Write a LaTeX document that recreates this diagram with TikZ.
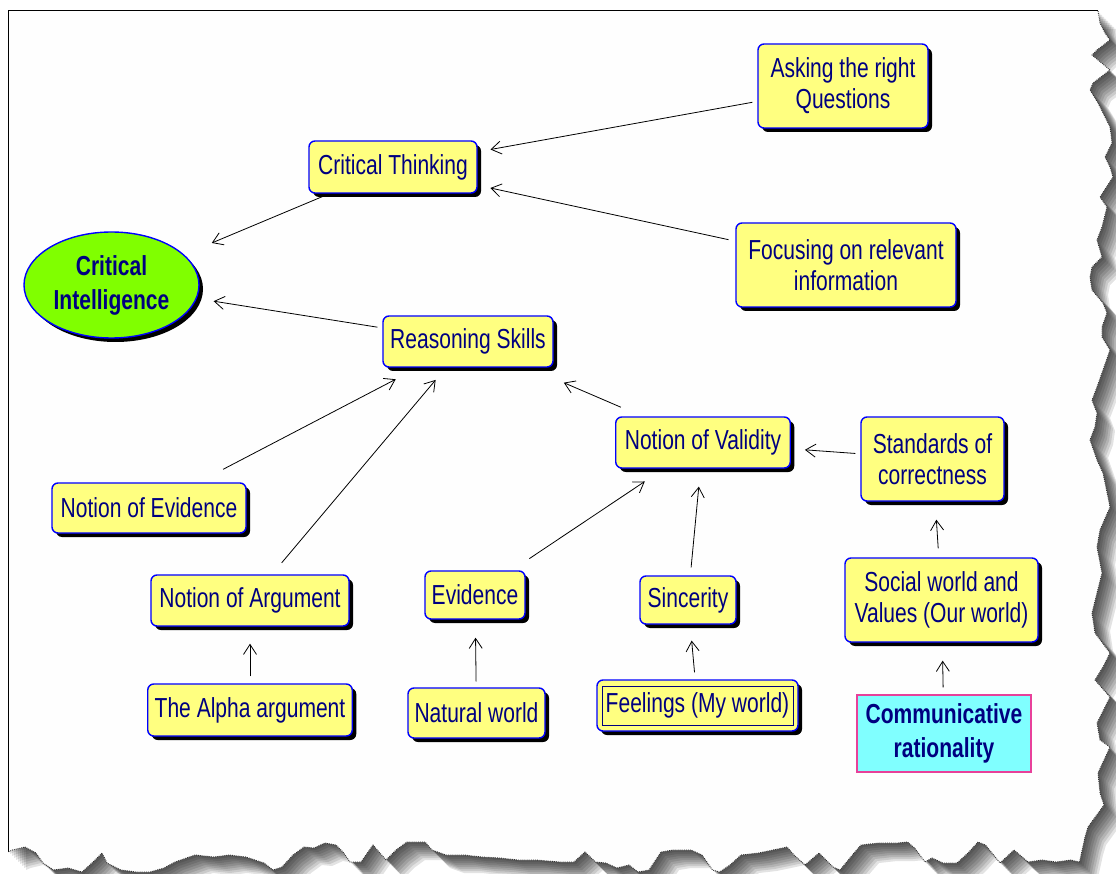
\documentclass[tikz,border=0pt]{standalone}
\usepackage{fontspec}
\newfontfamily\cmapfont{Liberation Sans}[FakeStretch=0.765]
\usetikzlibrary{shadows,arrows.meta,shapes.geometric,calc}
\definecolor{boxyellow}{HTML}{FFFF80}
\definecolor{boxblue}{HTML}{0000FF}
\definecolor{navytext}{HTML}{000080}
\definecolor{cigreen}{HTML}{80FF00}
\definecolor{crcyan}{HTML}{80FFFF}
\definecolor{crpink}{HTML}{E8409A}
\def\tornedge{-- (1100,23) -- (1105,33) -- (1110,40) -- (1097,50) -- (1092,55) -- (1110,70) -- (1093,83) -- (1090,90) -- (1098,103) -- (1110,127) -- (1112,143) -- (1105,157) -- (1110,167) -- (1113,177) -- (1100,197) -- (1107,207) -- (1102,227) -- (1097,240) -- (1102,257) -- (1092,267) -- (1090,277) -- (1092,290) -- (1103,303) -- (1107,313) -- (1102,327) -- (1102,337) -- (1110,350) -- (1097,387) -- (1092,400) -- (1097,413) -- (1095,427) -- (1090,440) -- (1097,460) -- (1103,473) -- (1110,507) -- (1100,530) -- (1097,547) -- (1102,573) -- (1092,613) -- (1095,633) -- (1110,653) -- (1103,667) -- (1095,680) -- (1110,697) -- (1097,723) -- (1100,740) -- (1110,747) -- (1098,773) -- (1100,793) -- (1104,805) -- (1088,827) -- (1085,837) -- (1079.5,862) -- (1070.6,860) -- (1056,862) -- (1042,860) -- (1028,862) -- (1014,850) -- (1000,863) -- (985.5,845) -- (978,842) -- (968,853) -- (957,863) -- (943,863) -- (932,858) -- (925,862) -- (914.6,848) -- (907.5,842) -- (897,843) -- (879,843) -- (861,845) -- (854,853) -- (840,870) -- (833,867) -- (819,853) -- (805,865) -- (794,855) -- (787,847) -- (773,850) -- (758.6,853) -- (741,855) -- (730,865) -- (719.6,872) -- (712.5,870) -- (702,855) -- (691,850) -- (673,850) -- (661,852) -- (649,870) -- (638,872) -- (629,865) -- (617,868) -- (606,863) -- (595.5,862) -- (585,852) -- (574,862) -- (560,862) -- (536,860) -- (518,860) -- (500,858) -- (482,857) -- (464,855) -- (446,855) -- (432,850) -- (425,842) -- (407,842) -- (396,850) -- (386,860) -- (373,845) -- (361,862) -- (350,862) -- (343,852) -- (336,845) -- (325,843) -- (314,848) -- (304,847) -- (293,855) -- (282,867) -- (273,870) -- (264,863) -- (246,857) -- (229,855) -- (214,857) -- (195,855) -- (175,862) -- (164,868) -- (150,872) -- (136,872) -- (121,870) -- (107,863) -- (102,853) -- (93,862) -- (82,872) -- (68,868) -- (53.6,870) -- (43,863) -- (36,853) -- (25,847) -- (12.5,850) -- (8,852)}
\begin{document}
\begin{tikzpicture}[x=1pt,y=-1pt,
  boxsz/.style 2 args={minimum width=#1pt, minimum height=#2pt},
  basefont/.style={font=\cmapfont\fontsize{27.5}{31}\selectfont},
  cbox/.style={rectangle, rounded corners=6pt, draw=boxblue, line width=1.4pt,
    fill=boxyellow, text=navytext, basefont, align=center, inner sep=0pt,
    drop shadow={shadow xshift=4pt, shadow yshift=-4pt, fill=black, opacity=1}},
  cell/.style={ellipse, draw=boxblue, line width=1.4pt, fill=cigreen, text=navytext,
    font=\cmapfont\bfseries\fontsize{27.5}{34}\selectfont, align=center, inner sep=0pt,
    drop shadow={shadow xshift=4pt, shadow yshift=-4pt, fill=black, opacity=1}},
  crbox/.style={rectangle, draw=crpink, line width=1.4pt, fill=crcyan, text=navytext,
    font=\cmapfont\bfseries\fontsize{27.5}{34}\selectfont, align=center, inner sep=0pt},
  conn/.style={draw=black, line width=0.8pt, -{Straight Barb[length=10pt,width=13pt,line width=0.8pt]}}
]
\useasboundingbox (0,0) rectangle (1116,874);
\fill[white] (0,0) rectangle (1116,874);
% torn paper shadow
\foreach \k in {2,4,6,8,10,12,14,16,18}{
  \fill[black, opacity=0.11, xshift=\k pt, yshift=-\k pt] (8,11) -- (1098,11) \tornedge -- cycle;
}
\fill[white!99.5!black] (8,11) -- (1098,11) \tornedge -- cycle;
\draw[black, line width=1pt] (8,852) -- (8,11) -- (1098,11);
\draw[black!80, densely dotted, line width=0.9pt] (1098,11) \tornedge;

% nodes
\node[cell, boxsz={175}{106}] (ci) at (111.5,285) {Critical\\Intelligence};
\node[cbox, boxsz={168}{52}] (ct) at (393,167) {Critical Thinking};
\node[cbox, boxsz={170}{84}] (ask) at (843,86) {Asking the right\\Questions};
\node[cbox, boxsz={220}{84}] (foc) at (846,265) {Focusing on relevant\\information};
\node[cbox, boxsz={170}{51}] (rs) at (468,341.5) {Reasoning Skills};
\node[cbox, boxsz={194}{50}] (noe) at (149,508) {Notion of Evidence};
\node[cbox, boxsz={198}{51}] (noa) at (250,600.5) {Notion of Argument};
\node[cbox, boxsz={204.5}{52}] (alpha) at (250,710) {The Alpha argument};
\node[cbox, boxsz={100}{48}] (ev) at (475,595) {Evidence};
\node[cbox, boxsz={137}{50}] (nat) at (476.5,713) {Natural world};
\node[cbox, boxsz={174.5}{51}] (nov) at (703,442.5) {Notion of Validity};
\node[cbox, boxsz={143}{84}] (soc) at (932.5,459) {Standards of\\correctness};
\node[cbox, boxsz={96}{48}] (sin) at (688,600) {Sincerity};
\node[cbox, boxsz={193}{84}] (sv) at (941.5,600) {Social world and\\Values (Our world)};
\node[cbox, boxsz={201}{51}] (fe) at (697.5,705.5) {Feelings (My world)};
\node[crbox, boxsz={174}{77}] (cr) at (944,733.5) {Communicative\\rationality};
\draw[navytext, line width=1.2pt] ($(fe.north west)+(6,7)$) rectangle ($(fe.south east)+(-5,-6)$);

% connectors
\draw[conn, shorten <=5pt, shorten >=13pt] (ask) -- (ct);
\draw[conn, shorten <=7pt, shorten >=13pt] (foc) -- (ct);
\draw[conn, shorten <=5pt, shorten >=30pt] (ct) -- (ci);
\draw[conn, shorten <=5pt, shorten >=17pt] (rs) -- (ci);
\draw[conn, shorten <=28pt, shorten >=25pt] (noe) -- (rs);
\draw[conn, shorten <=15pt, shorten >=16pt] (noa) -- (rs);
\draw[conn, shorten <=23pt, shorten >=38pt] (nov) -- (rs);
\draw[conn, shorten <=5pt, shorten >=14pt] (soc) -- (nov);
\draw[conn, shorten <=21pt, shorten >=23pt] (ev) -- (nov);
\draw[conn, shorten <=8pt, shorten >=18pt] (sin) -- (nov);
\draw[conn, shorten <=7pt, shorten >=17pt] (alpha) -- (noa);
\draw[conn, shorten <=6pt, shorten >=18pt] (nat) -- (ev);
\draw[conn, shorten <=7pt, shorten >=16pt] (fe) -- (sin);
\draw[conn, shorten <=9pt, shorten >=18pt] (sv) -- (soc);
\draw[conn, shorten <=7pt, shorten >=18pt] (cr) -- (sv);
\end{tikzpicture}
\end{document}
